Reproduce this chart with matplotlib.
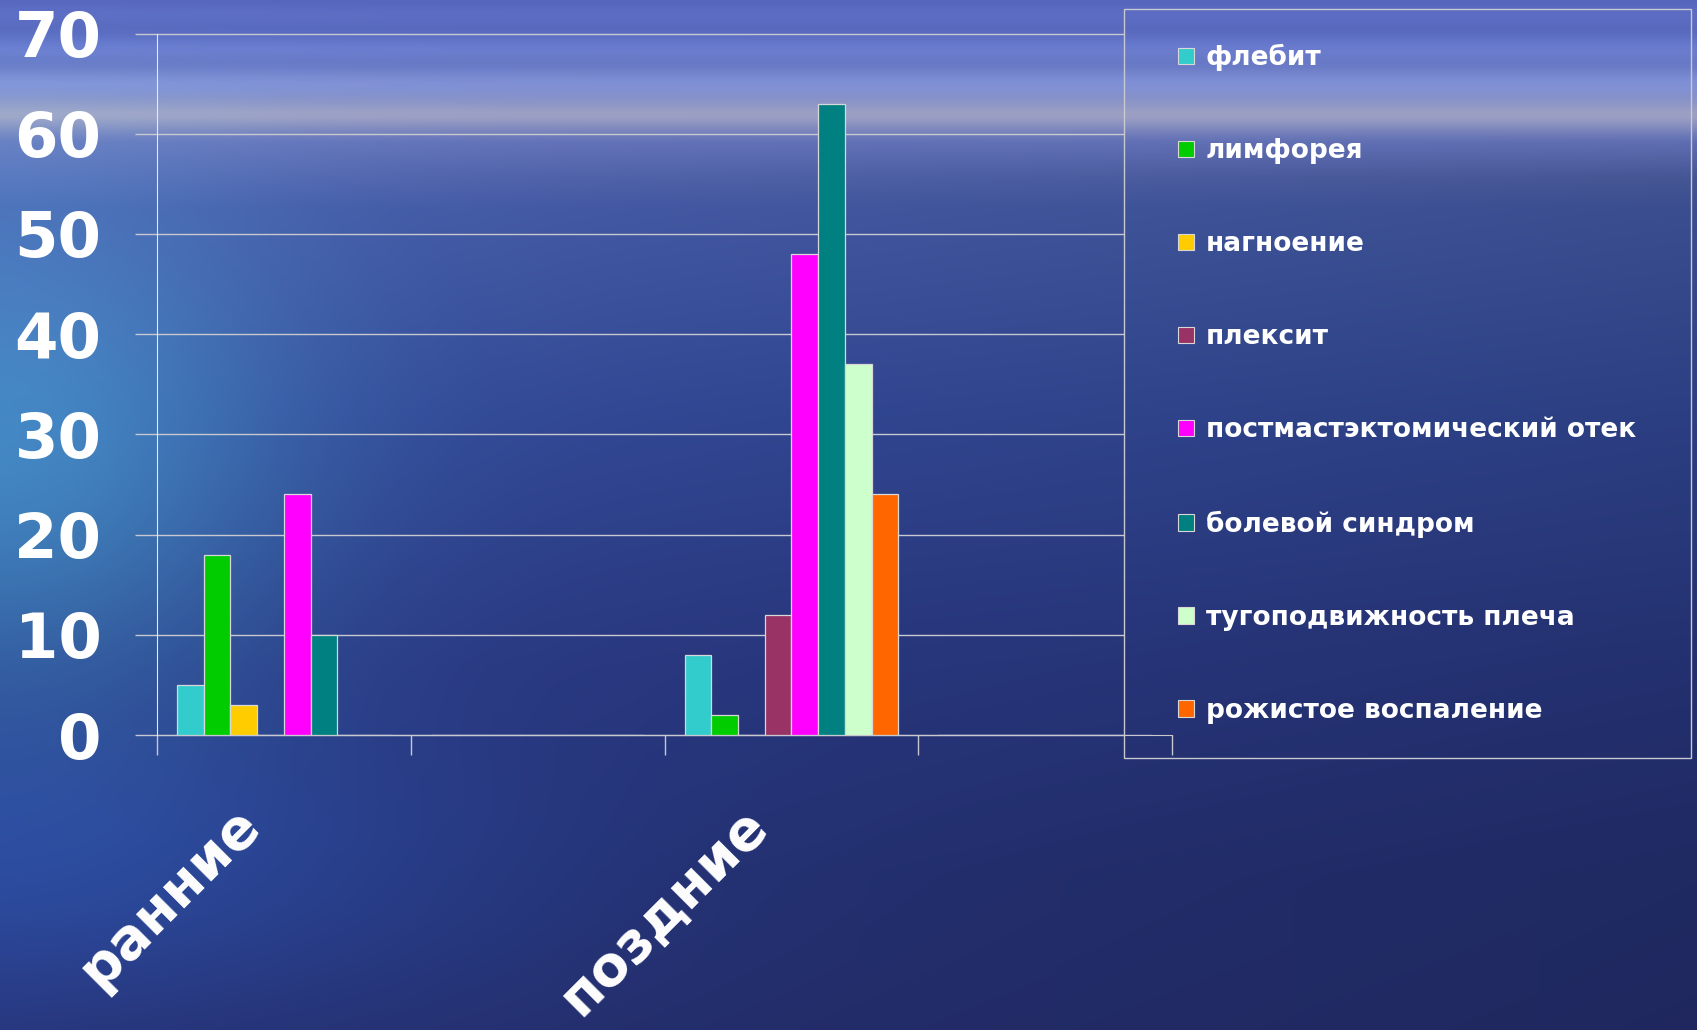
import numpy as np
import matplotlib.pyplot as plt
from matplotlib.patches import Rectangle, Patch
from matplotlib.transforms import ScaledTranslation

plt.rcParams['font.family'] = ['DejaVu Sans']
plt.rcParams['font.weight'] = 'bold'

categories = ['ранние', '', 'поздние', '']
series = ['флебит', 'лимфорея', 'нагноение', 'плексит',
          'постмастэктомический отек', 'болевой синдром',
          'тугоподвижность плеча', 'рожистое воспаление']
flebit = [5, 0, 8, 0]
limforeya = [18, 0, 2, 0]
nagnoenie = [3, 0, 0, 0]
pleksit = [0, 0, 12, 0]
otek = [24, 0, 48, 0]
bol = [10, 0, 63, 0]
tugopod = [0, 0, 37, 0]
rozha = [0, 0, 24, 0]
values = [flebit, limforeya, nagnoenie, pleksit, otek, bol, tugopod, rozha]
colors = ['#33CCCC', '#00CC00', '#FFCC00', '#993366',
          '#FF00FF', '#008080', '#CCFFCC', '#FF6600']
yticks = [0, 10, 20, 30, 40, 50, 60, 70]

W_PX, H_PX = 1697, 1030
fig = plt.figure(figsize=(W_PX / 100, H_PX / 100), dpi=100)

# sea-like backdrop
H, W = 206, 340
yy, xx = np.mgrid[0:1:H * 1j, 0:1:W * 1j]
sy = [0, 0.04, 0.085, 0.11, 0.135, 0.2, 0.4, 0.65, 0.85, 1.0]
R = [0.34, 0.38, 0.50, 0.62, 0.40, 0.28, 0.21, 0.17, 0.15, 0.15]
G = [0.40, 0.45, 0.56, 0.63, 0.46, 0.37, 0.30, 0.23, 0.20, 0.19]
B = [0.74, 0.78, 0.82, 0.76, 0.74, 0.68, 0.62, 0.53, 0.47, 0.45]
bg = np.dstack([np.interp(yy, sy, c) for c in (R, G, B)])
below = np.clip((yy - 0.12) / 0.05, 0, 1)
bg *= (1 - 0.18 * xx * below)[..., None]
glow = np.exp(-(xx / 0.17) ** 2) * np.exp(-((yy - 0.45) / 0.25) ** 2)
bg += glow[..., None] * np.array([0.06, 0.24, 0.16])
bg += (np.exp(-(xx / 0.3) ** 2) * np.exp(-((yy - 0.85) / 0.15) ** 2))[..., None] * np.array([0.02, 0.08, 0.14])
streak = 0.025 * np.sin(yy * 180) * np.exp(-((yy - 0.05) / 0.05) ** 2)
bg += streak[..., None]
bg = np.clip(bg, 0, 1)
bgax = fig.add_axes([0, 0, 1, 1], zorder=-10)
bgax.imshow(bg, aspect='auto', interpolation='bilinear', extent=[0, 1, 0, 1])
bgax.axis('off')

x0, x1 = 157, 1172
y0, y1 = 735, 33.5
ax = fig.add_axes([x0 / W_PX, 1 - y0 / H_PX, (x1 - x0) / W_PX, (y0 - y1) / H_PX])
ax.set_facecolor('none')

x = np.arange(len(categories))
w = 1 / 9.5
for i, (vals, col) in enumerate(zip(values, colors)):
    ax.bar(x + (i - 3.5) * w, vals, w, color=col, edgecolor='#d8d8d8',
           linewidth=0.9, zorder=3)

ax.set_xlim(-0.5, len(categories) - 0.5)
ax.set_ylim(0, 70)

legend_left = 1124
ax.hlines(yticks, -22 / (x1 - x0), (legend_left - x0) / (x1 - x0),
          transform=ax.get_yaxis_transform(), colors='#c8c8d0',
          linewidth=1, clip_on=False, zorder=1)

ax.set_yticks(yticks)
ax.tick_params(axis='y', length=0, pad=40, labelsize=45, labelcolor='white')
ax.set_xticks(np.arange(-0.5, len(categories), 1))
ax.set_xticklabels([])
ax.tick_params(axis='x', which='major', length=14.4, width=1, color='#c8c8d0', direction='out')
ax.set_xticks(x, minor=True)
ax.set_xticklabels(categories, minor=True, rotation=45, ha='right', va='top',
                   rotation_mode='anchor', fontsize=40, color='white')
ax.tick_params(axis='x', which='minor', length=0, pad=45)
for lab in ax.get_xticklabels(minor=True):
    lab.set_transform(lab.get_transform() + ScaledTranslation(-0.52, 0, fig.dpi_scale_trans))

for s in ['top', 'right']:
    ax.spines[s].set_visible(False)
ax.spines['left'].set_color('#e8e8f0')
ax.spines['bottom'].set_color('#c8c8d0')
ax.spines['left'].set_zorder(4)

# legend frame
fig.patches.append(Rectangle((legend_left / W_PX, 1 - 758 / H_PX),
                             (1691 - legend_left) / W_PX, (758 - 9) / H_PX,
                             transform=fig.transFigure, fill=False,
                             edgecolor='#c8c8d0', linewidth=1))
handles = [Patch(facecolor=c, edgecolor='#d8d8d8', linewidth=0.8) for c in colors]
fig.legend(handles, series, loc='upper left',
           bbox_to_anchor=(1178 / W_PX, 1 - 44 / H_PX), frameon=False,
           fontsize=19, labelcolor='white', labelspacing=2.54,
           handlelength=0.6, handleheight=0.6, handletextpad=0.45,
           borderpad=0, borderaxespad=0)

fig.savefig('out.png', dpi=100)
